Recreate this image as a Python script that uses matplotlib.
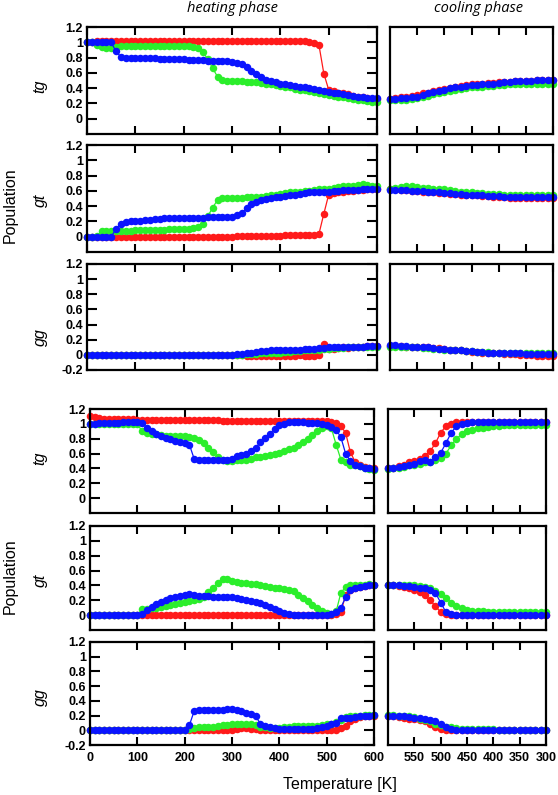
import numpy as np
import matplotlib
matplotlib.use("Agg")
import matplotlib.pyplot as plt
from matplotlib.ticker import FuncFormatter

# temperature grids [K]
heat_T = list(range(0, 610, 10))
cool_T = list(range(600, 290, -10))

# ---- upper set, heating ----
tg1_red = [1.00, 1.01, 1.02, 1.02, 1.02, 1.02, 1.02, 1.02, 1.02, 1.02,
           1.02, 1.02, 1.02, 1.02, 1.02, 1.02, 1.02, 1.02, 1.02, 1.02,
           1.02, 1.02, 1.02, 1.02, 1.02, 1.02, 1.02, 1.02, 1.02, 1.02,
           1.02, 1.02, 1.02, 1.02, 1.02, 1.02, 1.02, 1.02, 1.02, 1.02,
           1.02, 1.02, 1.02, 1.02, 1.02, 1.02, 1.01, 0.99, 0.96, 0.59,
           0.38, 0.36, 0.34, 0.33, 0.32, 0.30, 0.29, 0.28, 0.27, 0.26, 0.26]
tg1_green = [1.00, 1.00, 0.97, 0.94, 0.93, 0.93, 0.94, 0.95, 0.95, 0.95,
             0.95, 0.95, 0.95, 0.95, 0.95, 0.95, 0.95, 0.95, 0.95, 0.95,
             0.95, 0.95, 0.94, 0.92, 0.87, 0.78, 0.66, 0.55, 0.51, 0.49,
             0.49, 0.49, 0.49, 0.48, 0.48, 0.48, 0.47, 0.46, 0.45, 0.44,
             0.43, 0.42, 0.41, 0.39, 0.38, 0.37, 0.36, 0.35, 0.33, 0.32,
             0.31, 0.30, 0.29, 0.28, 0.27, 0.26, 0.25, 0.24, 0.23, 0.22, 0.22]
tg1_blue = [1.00, 1.01, 1.01, 1.01, 1.01, 1.00, 0.88, 0.81, 0.80, 0.80,
            0.80, 0.80, 0.79, 0.79, 0.79, 0.78, 0.78, 0.78, 0.78, 0.78,
            0.78, 0.77, 0.77, 0.77, 0.77, 0.76, 0.76, 0.76, 0.75, 0.75,
            0.74, 0.73, 0.71, 0.68, 0.63, 0.58, 0.54, 0.51, 0.49, 0.48,
            0.46, 0.45, 0.44, 0.43, 0.42, 0.41, 0.40, 0.39, 0.37, 0.36,
            0.35, 0.34, 0.33, 0.32, 0.31, 0.30, 0.29, 0.28, 0.27, 0.27, 0.27]

gt1_red = [0.00, 0.00, 0.00, 0.00, 0.00, 0.00, 0.00, 0.00, 0.00, 0.00,
           0.00, 0.00, 0.00, 0.00, 0.00, 0.00, 0.00, 0.00, 0.00, 0.00,
           0.00, 0.00, 0.00, 0.00, 0.00, 0.00, 0.00, 0.00, 0.00, 0.00,
           0.00, 0.01, 0.01, 0.01, 0.01, 0.01, 0.01, 0.01, 0.01, 0.01,
           0.01, 0.02, 0.02, 0.02, 0.02, 0.02, 0.02, 0.02, 0.04, 0.30,
           0.55, 0.57, 0.58, 0.59, 0.60, 0.60, 0.61, 0.61, 0.62, 0.62, 0.62]
gt1_green = [0.00, 0.00, 0.01, 0.07, 0.08, 0.08, 0.08, 0.08, 0.08, 0.08,
             0.09, 0.09, 0.09, 0.09, 0.09, 0.09, 0.09, 0.10, 0.10, 0.10,
             0.10, 0.10, 0.11, 0.13, 0.17, 0.27, 0.38, 0.48, 0.51, 0.51,
             0.51, 0.51, 0.51, 0.52, 0.52, 0.52, 0.52, 0.53, 0.54, 0.55,
             0.56, 0.57, 0.58, 0.58, 0.59, 0.60, 0.60, 0.61, 0.62, 0.62,
             0.63, 0.64, 0.65, 0.66, 0.67, 0.67, 0.68, 0.69, 0.68, 0.67, 0.66]
gt1_blue = [0.00, 0.00, 0.00, 0.00, 0.00, 0.00, 0.10, 0.17, 0.19, 0.20,
            0.21, 0.21, 0.22, 0.22, 0.23, 0.23, 0.24, 0.24, 0.24, 0.25,
            0.25, 0.25, 0.25, 0.25, 0.25, 0.26, 0.26, 0.26, 0.26, 0.26,
            0.26, 0.28, 0.31, 0.37, 0.43, 0.46, 0.48, 0.49, 0.51, 0.52,
            0.52, 0.53, 0.54, 0.55, 0.56, 0.57, 0.58, 0.58, 0.59, 0.59,
            0.59, 0.60, 0.60, 0.61, 0.61, 0.61, 0.61, 0.62, 0.62, 0.62, 0.62]

gg1_red = [0.00, 0.00, 0.00, 0.00, 0.00, 0.00, 0.00, 0.00, 0.00, 0.00,
           0.00, 0.00, 0.00, 0.00, 0.00, 0.00, 0.00, 0.00, 0.00, 0.00,
           0.00, 0.00, 0.00, 0.00, 0.00, 0.00, 0.00, 0.00, 0.00, 0.00,
           0.00, 0.00, 0.00, -0.01, -0.01, -0.01, -0.01, -0.01, -0.01, -0.01,
           -0.01, -0.01, -0.01, -0.01, 0.00, -0.01, -0.01, -0.01, 0.00, 0.14,
           0.08, 0.08, 0.09, 0.10, 0.09, 0.10, 0.10, 0.11, 0.12, 0.12, 0.12]
gg1_green = [0.00, 0.00, 0.00, 0.00, 0.00, 0.00, 0.00, 0.00, 0.00, 0.00,
             0.00, 0.00, 0.00, 0.00, 0.00, 0.00, 0.00, 0.00, 0.00, 0.00,
             0.00, 0.00, 0.00, 0.00, 0.00, 0.00, 0.00, 0.00, 0.00, 0.00,
             0.00, 0.00, 0.00, 0.01, 0.01, 0.01, 0.02, 0.02, 0.02, 0.03,
             0.03, 0.04, 0.04, 0.05, 0.05, 0.06, 0.06, 0.07, 0.07, 0.08,
             0.08, 0.09, 0.09, 0.09, 0.10, 0.10, 0.10, 0.11, 0.11, 0.11, 0.11]
gg1_blue = [0.00, 0.00, 0.00, 0.00, 0.00, 0.00, 0.00, 0.00, 0.00, 0.00,
            0.00, 0.00, 0.00, 0.00, 0.00, 0.00, 0.00, 0.00, 0.00, 0.00,
            0.00, 0.00, 0.00, 0.00, 0.00, 0.00, 0.00, 0.00, 0.00, 0.00,
            0.00, 0.01, 0.01, 0.02, 0.03, 0.04, 0.05, 0.05, 0.06, 0.06,
            0.06, 0.06, 0.07, 0.07, 0.07, 0.08, 0.08, 0.08, 0.09, 0.09,
            0.10, 0.10, 0.10, 0.10, 0.11, 0.11, 0.11, 0.11, 0.12, 0.12, 0.12]

# ---- upper set, cooling ----
ctg1_red = [0.26, 0.27, 0.28, 0.29, 0.30, 0.31, 0.33, 0.34, 0.36, 0.37,
            0.39, 0.40, 0.42, 0.43, 0.44, 0.45, 0.45, 0.46, 0.47, 0.47,
            0.48, 0.48, 0.48, 0.49, 0.49, 0.49, 0.49, 0.50, 0.50, 0.50, 0.50]
ctg1_green = [0.24, 0.24, 0.25, 0.25, 0.26, 0.27, 0.29, 0.30, 0.32, 0.33,
              0.35, 0.36, 0.38, 0.39, 0.40, 0.41, 0.41, 0.42, 0.43, 0.43,
              0.44, 0.44, 0.45, 0.45, 0.45, 0.46, 0.46, 0.46, 0.46, 0.46, 0.46]
ctg1_blue = [0.26, 0.26, 0.27, 0.27, 0.28, 0.29, 0.31, 0.33, 0.35, 0.36,
             0.38, 0.40, 0.41, 0.42, 0.43, 0.44, 0.44, 0.45, 0.46, 0.46,
             0.47, 0.48, 0.48, 0.49, 0.49, 0.49, 0.49, 0.50, 0.50, 0.50, 0.50]

cgt1_red = [0.62, 0.62, 0.61, 0.61, 0.60, 0.60, 0.59, 0.59, 0.58, 0.57,
            0.57, 0.56, 0.56, 0.55, 0.55, 0.54, 0.54, 0.53, 0.53, 0.52,
            0.52, 0.52, 0.51, 0.51, 0.51, 0.51, 0.51, 0.51, 0.51, 0.51, 0.51]
cgt1_green = [0.63, 0.64, 0.65, 0.66, 0.66, 0.65, 0.64, 0.64, 0.63, 0.62,
              0.62, 0.61, 0.60, 0.59, 0.58, 0.58, 0.57, 0.57, 0.56, 0.56,
              0.56, 0.55, 0.55, 0.55, 0.55, 0.55, 0.55, 0.55, 0.55, 0.55, 0.55]
cgt1_blue = [0.61, 0.61, 0.61, 0.61, 0.60, 0.60, 0.60, 0.59, 0.58, 0.58,
             0.57, 0.57, 0.56, 0.56, 0.55, 0.55, 0.54, 0.54, 0.53, 0.53,
             0.53, 0.52, 0.52, 0.52, 0.52, 0.52, 0.52, 0.52, 0.52, 0.52, 0.52]

cgg1_red = [0.12, 0.12, 0.12, 0.11, 0.11, 0.10, 0.10, 0.10, 0.09, 0.09,
            0.08, 0.07, 0.06, 0.06, 0.05, 0.04, 0.04, 0.03, 0.03, 0.02,
            0.02, 0.01, 0.01, 0.01, 0.00, 0.00, 0.00, -0.01, -0.01, -0.01, -0.01]
cgg1_green = [0.11, 0.11, 0.11, 0.10, 0.10, 0.10, 0.09, 0.09, 0.08, 0.08,
              0.07, 0.07, 0.06, 0.06, 0.05, 0.05, 0.04, 0.04, 0.04, 0.03,
              0.03, 0.03, 0.03, 0.02, 0.02, 0.02, 0.02, 0.02, 0.02, 0.02, 0.02]
cgg1_blue = [0.13, 0.13, 0.12, 0.12, 0.11, 0.11, 0.10, 0.10, 0.09, 0.08,
             0.08, 0.07, 0.07, 0.06, 0.05, 0.05, 0.04, 0.04, 0.03, 0.03,
             0.03, 0.02, 0.02, 0.02, 0.02, 0.01, 0.01, 0.01, 0.01, 0.01, 0.01]

# ---- lower set, heating ----
tg2_red = [1.10, 1.09, 1.08, 1.07, 1.07, 1.06, 1.06, 1.06, 1.06, 1.06,
           1.05, 1.05, 1.05, 1.05, 1.05, 1.05, 1.05, 1.05, 1.05, 1.05,
           1.05, 1.05, 1.05, 1.05, 1.05, 1.05, 1.05, 1.05, 1.04, 1.04,
           1.04, 1.04, 1.04, 1.04, 1.04, 1.04, 1.04, 1.04, 1.04, 1.04,
           1.04, 1.04, 1.04, 1.04, 1.04, 1.04, 1.04, 1.04, 1.04, 1.04,
           1.04, 1.03, 1.01, 0.97, 0.88, 0.62, 0.49, 0.45, 0.42, 0.41, 0.40]
tg2_green = [1.00, 1.00, 1.00, 1.00, 1.00, 1.00, 1.00, 1.00, 1.00, 1.00,
             1.00, 0.90, 0.88, 0.87, 0.86, 0.85, 0.84, 0.84, 0.83, 0.83,
             0.83, 0.82, 0.81, 0.78, 0.74, 0.68, 0.62, 0.56, 0.52, 0.50,
             0.50, 0.51, 0.52, 0.52, 0.53, 0.55, 0.56, 0.57, 0.58, 0.59,
             0.61, 0.63, 0.66, 0.68, 0.72, 0.76, 0.80, 0.85, 0.90, 0.94,
             0.97, 0.94, 0.72, 0.52, 0.48, 0.45, 0.44, 0.43, 0.41, 0.39, 0.38]
tg2_blue = [1.00, 1.00, 1.01, 1.01, 1.01, 1.01, 1.01, 1.02, 1.02, 1.02,
            1.02, 1.01, 0.95, 0.90, 0.86, 0.83, 0.81, 0.79, 0.77, 0.76,
            0.74, 0.72, 0.53, 0.52, 0.51, 0.51, 0.51, 0.51, 0.51, 0.51,
            0.53, 0.57, 0.58, 0.60, 0.63, 0.68, 0.75, 0.81, 0.87, 0.93,
            0.98, 1.00, 1.02, 1.02, 1.02, 1.02, 1.01, 1.01, 1.01, 1.00,
            0.99, 0.96, 0.92, 0.82, 0.60, 0.50, 0.45, 0.43, 0.41, 0.40, 0.39]

gt2_red = [0.00, 0.00, 0.00, 0.00, 0.00, 0.00, 0.00, 0.00, 0.00, 0.00,
           0.00, 0.00, 0.00, 0.00, 0.00, 0.00, 0.00, 0.00, 0.00, 0.00,
           0.00, 0.00, 0.00, 0.00, 0.00, 0.00, 0.00, 0.00, 0.00, 0.00,
           0.00, 0.00, 0.00, 0.00, 0.00, 0.00, 0.00, 0.00, 0.00, 0.00,
           0.00, 0.00, 0.00, 0.00, 0.00, 0.00, 0.00, 0.00, 0.00, 0.00,
           0.00, 0.00, 0.01, 0.04, 0.27, 0.34, 0.37, 0.38, 0.39, 0.40, 0.40]
gt2_green = [0.00, 0.00, 0.00, 0.00, 0.00, 0.00, 0.00, 0.00, 0.00, 0.00,
             0.00, 0.08, 0.08, 0.09, 0.10, 0.11, 0.12, 0.14, 0.15, 0.17,
             0.18, 0.19, 0.20, 0.22, 0.25, 0.31, 0.37, 0.43, 0.48, 0.48,
             0.46, 0.44, 0.43, 0.43, 0.42, 0.42, 0.40, 0.39, 0.38, 0.37,
             0.36, 0.35, 0.34, 0.32, 0.27, 0.23, 0.19, 0.14, 0.10, 0.06,
             0.03, 0.02, 0.05, 0.30, 0.38, 0.40, 0.41, 0.41, 0.41, 0.42, 0.41]
gt2_blue = [0.00, 0.00, 0.00, 0.00, 0.00, 0.00, 0.00, 0.00, 0.00, 0.00,
            0.00, 0.02, 0.07, 0.11, 0.15, 0.18, 0.21, 0.23, 0.25, 0.26,
            0.27, 0.28, 0.27, 0.26, 0.26, 0.26, 0.25, 0.25, 0.25, 0.24,
            0.24, 0.23, 0.22, 0.21, 0.19, 0.18, 0.16, 0.14, 0.11, 0.08,
            0.05, 0.03, 0.01, 0.00, 0.00, 0.00, 0.00, 0.00, 0.00, 0.00,
            0.00, 0.01, 0.04, 0.10, 0.24, 0.34, 0.37, 0.38, 0.39, 0.40, 0.40]

gg2_red = [0.00, 0.00, 0.00, 0.00, 0.00, 0.00, 0.00, 0.00, 0.00, 0.00,
           0.00, 0.00, 0.00, 0.00, 0.00, 0.00, 0.00, 0.00, 0.00, 0.00,
           0.00, 0.00, 0.00, 0.00, 0.00, 0.00, 0.00, 0.00, 0.00, 0.00,
           0.01, 0.02, 0.03, 0.03, 0.02, 0.02, 0.01, 0.00, 0.00, 0.00,
           0.00, 0.00, 0.00, 0.00, 0.00, 0.00, 0.00, 0.00, 0.00, 0.00,
           0.00, 0.01, 0.01, 0.03, 0.06, 0.12, 0.16, 0.18, 0.19, 0.20, 0.20]
gg2_green = [0.00, 0.00, 0.00, 0.00, 0.00, 0.00, 0.00, 0.00, 0.00, 0.00,
             0.00, 0.00, 0.00, 0.00, 0.00, 0.00, 0.00, 0.00, 0.00, 0.00,
             0.00, 0.02, 0.03, 0.04, 0.04, 0.05, 0.05, 0.06, 0.07, 0.07,
             0.08, 0.09, 0.09, 0.08, 0.08, 0.07, 0.05, 0.04, 0.03, 0.03,
             0.03, 0.04, 0.05, 0.06, 0.06, 0.06, 0.06, 0.06, 0.06, 0.07,
             0.08, 0.09, 0.11, 0.14, 0.18, 0.19, 0.20, 0.20, 0.21, 0.21, 0.21]
gg2_blue = [0.00, 0.00, 0.00, 0.00, 0.00, 0.00, 0.00, 0.00, 0.00, 0.00,
            0.00, 0.00, 0.00, 0.00, 0.00, 0.00, 0.00, 0.00, 0.00, 0.00,
            0.00, 0.07, 0.26, 0.27, 0.27, 0.27, 0.27, 0.28, 0.28, 0.29,
            0.29, 0.28, 0.26, 0.24, 0.22, 0.19, 0.09, 0.06, 0.05, 0.03,
            0.02, 0.02, 0.02, 0.02, 0.02, 0.02, 0.02, 0.02, 0.03, 0.04,
            0.06, 0.08, 0.10, 0.17, 0.17, 0.17, 0.18, 0.19, 0.20, 0.20, 0.21]

# ---- lower set, cooling ----
ctg2_red = [0.40, 0.41, 0.43, 0.45, 0.48, 0.50, 0.53, 0.57, 0.63, 0.74,
            0.88, 0.97, 1.00, 1.02, 1.02, 1.02, 1.02, 1.02, 1.02, 1.02,
            1.02, 1.02, 1.02, 1.02, 1.02, 1.02, 1.02, 1.02, 1.02, 1.02, 1.02]
ctg2_green = [0.39, 0.40, 0.41, 0.42, 0.44, 0.45, 0.46, 0.48, 0.49, 0.51,
              0.54, 0.60, 0.71, 0.80, 0.86, 0.90, 0.92, 0.94, 0.95, 0.96,
              0.97, 0.97, 0.98, 0.98, 0.98, 0.98, 0.99, 0.99, 0.99, 0.99, 0.99]
ctg2_blue = [0.40, 0.41, 0.42, 0.43, 0.44, 0.46, 0.50, 0.51, 0.49, 0.55,
             0.61, 0.74, 0.88, 0.97, 1.00, 1.01, 1.02, 1.02, 1.02, 1.02,
             1.02, 1.02, 1.02, 1.02, 1.02, 1.02, 1.02, 1.03, 1.03, 1.03, 1.03]

cgt2_red = [0.41, 0.40, 0.39, 0.38, 0.36, 0.34, 0.31, 0.27, 0.20, 0.12,
            0.04, 0.01, 0.00, 0.00, 0.00, 0.00, 0.00, 0.00, 0.00, 0.00,
            0.00, 0.00, 0.00, 0.00, 0.00, 0.00, 0.00, 0.00, 0.00, 0.00, 0.00]
cgt2_green = [0.41, 0.41, 0.41, 0.41, 0.40, 0.40, 0.39, 0.38, 0.36, 0.33,
              0.29, 0.23, 0.17, 0.12, 0.09, 0.07, 0.06, 0.05, 0.05, 0.04,
              0.04, 0.04, 0.04, 0.04, 0.04, 0.04, 0.04, 0.04, 0.04, 0.04, 0.04]
cgt2_blue = [0.40, 0.40, 0.40, 0.39, 0.39, 0.38, 0.37, 0.36, 0.34, 0.30,
             0.17, 0.04, 0.01, 0.00, 0.00, 0.00, 0.00, 0.00, 0.00, 0.00,
             0.00, 0.00, 0.00, 0.00, 0.00, 0.00, 0.00, 0.00, 0.00, 0.00, 0.00]

cgg2_red = [0.20, 0.19, 0.18, 0.17, 0.16, 0.15, 0.14, 0.12, 0.08, 0.05,
            0.02, 0.01, 0.00, 0.00, 0.00, 0.00, 0.00, 0.00, 0.00, 0.00,
            0.00, 0.00, 0.00, 0.00, 0.00, 0.00, 0.00, 0.00, 0.00, 0.00, 0.00]
cgg2_green = [0.21, 0.21, 0.20, 0.20, 0.19, 0.18, 0.16, 0.14, 0.12, 0.09,
              0.07, 0.05, 0.04, 0.03, 0.02, 0.02, 0.02, 0.02, 0.02, 0.02,
              0.02, 0.01, 0.01, 0.01, 0.01, 0.01, 0.01, 0.01, 0.01, 0.01, 0.01]
cgg2_blue = [0.20, 0.20, 0.19, 0.19, 0.18, 0.17, 0.17, 0.16, 0.14, 0.12,
             0.09, 0.04, 0.02, 0.01, 0.00, 0.00, 0.00, 0.00, 0.00, 0.00,
             0.00, 0.00, 0.00, 0.00, 0.00, 0.00, 0.00, 0.00, 0.00, 0.00, 0.00]

heat_xticks = [0, 100, 200, 300, 400, 500, 600]
cool_xticks = [550, 500, 450, 400, 350, 300]
conf_labels = ["tg", "gt", "gg"]

RED, GREEN, BLUE = "#ff1a1a", "#2bee2b", "#0a14ff"
W, H = 558, 795

plt.rcParams["font.family"] = ["Liberation Sans", "DejaVu Sans"]
fig = plt.figure(figsize=(W / 100, H / 100), dpi=100)


def px_axes(x0, y0, x1, y1):
    # axes from pixel box (top-left origin)
    return fig.add_axes([x0 / W, 1 - y1 / H, (x1 - x0) / W, (y1 - y0) / H])


def style(ax, heating, yticks, show_ylab, show_xlab):
    ax.set_ylim(-0.2, 1.2)
    for s in ax.spines.values():
        s.set_linewidth(1.6)
    if heating:
        ax.set_xlim(0, 600)
        ax.set_xticks(heat_xticks)
        ax.set_yticks(yticks)
        ax.tick_params(axis="y", direction="in", length=7, width=1.5,
                       left=True, right=True, labelsize=9, pad=3)
        ax.yaxis.set_major_formatter(FuncFormatter(lambda v, p: "%g" % round(v, 1)))
        if not show_ylab:
            ax.set_yticklabels([])
        for lab in ax.get_yticklabels():
            lab.set_fontweight("bold")
    else:
        ax.set_xlim(600, 300)
        ax.set_xticks(cool_xticks)
        ax.set_yticks([])
    ax.tick_params(axis="x", direction="in", length=6, width=1.5,
                   top=True, bottom=True, labelsize=9, pad=5)
    if not show_xlab:
        ax.set_xticklabels([])
    for lab in ax.get_xticklabels():
        lab.set_fontweight("bold")


def draw(ax, T, r, g, b):
    for vals, c in ((r, RED), (g, GREEN), (b, BLUE)):
        ax.plot(T, vals, "-o", color=c, lw=0.9, ms=5.4, mew=0, clip_on=False)


upper_heat = [(tg1_red, tg1_green, tg1_blue), (gt1_red, gt1_green, gt1_blue),
              (gg1_red, gg1_green, gg1_blue)]
upper_cool = [(ctg1_red, ctg1_green, ctg1_blue), (cgt1_red, cgt1_green, cgt1_blue),
              (cgg1_red, cgg1_green, cgg1_blue)]
lower_heat = [(tg2_red, tg2_green, tg2_blue), (gt2_red, gt2_green, gt2_blue),
              (gg2_red, gg2_green, gg2_blue)]
lower_cool = [(ctg2_red, ctg2_green, ctg2_blue), (cgt2_red, cgt2_green, cgt2_blue),
              (cgg2_red, cgg2_green, cgg2_blue)]

# pixel boxes of the panel rows
upper_rows = [(27, 134), (145, 252), (264, 370)]
lower_rows = [(409, 513), (526, 630), (642, 745)]
upper_lbl_y = [86, 200, 337]
lower_lbl_y = [458, 580, 697]

groups = [
    (upper_rows, (87, 377), (390, 553), upper_heat, upper_cool, upper_lbl_y, False),
    (lower_rows, (90, 374), (388, 546), lower_heat, lower_cool, lower_lbl_y, True),
]

for rows, hx, cx, heat, cool, lbl_y, bottom_group in groups:
    for i, (y0, y1) in enumerate(rows):
        last = i == 2
        yt = [-0.2, 0, 0.2, 0.4, 0.6, 0.8, 1.0, 1.2] if last else [0, 0.2, 0.4, 0.6, 0.8, 1.0, 1.2]
        axh = px_axes(hx[0], y0, hx[1], y1)
        draw(axh, heat_T, *heat[i])
        style(axh, True, yt, True, bottom_group and last)
        axc = px_axes(cx[0], y0, cx[1], y1)
        draw(axc, cool_T, *cool[i])
        style(axc, False, yt, False, bottom_group and last)
        fig.text(40 / W, 1 - lbl_y[i] / H, conf_labels[i], rotation=90, style="italic",
                 fontsize=11.5, ha="center", va="center")

fig.text(232 / W, 1 - 9 / H, "heating phase", style="italic", fontsize=10.5,
         ha="center", va="center", family=["Open Sans", "DejaVu Sans"])
fig.text(478 / W, 1 - 9 / H, "cooling phase", style="italic", fontsize=10.5,
         ha="center", va="center", family=["Open Sans", "DejaVu Sans"])
fig.text(10 / W, 1 - 205 / H, "Population", rotation=90, fontsize=11.5,
         ha="center", va="center")
fig.text(10 / W, 1 - 576 / H, "Population", rotation=90, fontsize=11.5,
         ha="center", va="center")
fig.text(340 / W, 1 - 785 / H, "Temperature [K]", fontsize=11.5,
         ha="center", va="center")

fig.savefig("out.png", dpi=100)
